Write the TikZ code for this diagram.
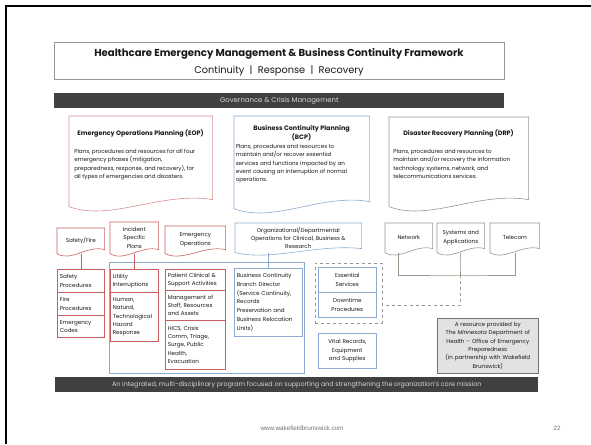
\documentclass[tikz,border=0pt]{standalone}
\usepackage{fontspec}
\setmainfont{Poppins}
\newfontfamily\footfont{Liberation Sans}
\usetikzlibrary{calc}

\definecolor{boxred}{RGB}{200,95,95}
\definecolor{boxblue}{RGB}{140,170,210}
\definecolor{boxgray}{RGB}{150,150,150}
\definecolor{bargray}{RGB}{64,64,64}
\definecolor{bartext}{RGB}{215,215,215}
\definecolor{txtgray}{RGB}{25,25,25}
\definecolor{linkgray}{RGB}{150,150,135}
\definecolor{notefill}{RGB}{226,226,226}

\newcommand{\smallfont}{\fontsize{5.6}{8.3}\selectfont}
\newcommand{\headfont}{\fontsize{6.4}{8.8}\selectfont\bfseries}

% document shape: node, colour, wave height
\newcommand{\wavybox}[3]{%
  \draw[#2] (#1.south west) -- (#1.north west) -- (#1.north east)
    -- ($(#1.south east)+(0,-#3)$)
    .. controls ($(#1.south west)!0.64!(#1.south east)+(0,-2.2*#3)$)
    and ($(#1.south west)!0.29!(#1.south east)+(0,2.2*#3)$) .. (#1.south west);
}

\tikzset{
  every node/.style={inner sep=0pt, text=txtgray},
  docbox/.style={anchor=north west, align=center, font=\smallfont},
  cell/.style={anchor=north west, draw, align=left, inner xsep=2.5pt, font=\smallfont},
  body/.style={anchor=north west, align=left, font=\smallfont},
  head/.style={align=center, font=\headfont},
  bar/.style={fill=bargray, draw=none, anchor=north west},
}

\begin{document}
\begin{tikzpicture}[x=1pt, y=-1pt, line width=0.6pt]

	\useasboundingbox (0,0) rectangle (591,444);
	\fill[white] (0,0) rectangle (591,444);

	% slide frame
	\draw[line width=2pt, black] (6,444) -- (6,6) -- (591,6);

	% Title
	\node[draw=boxgray, anchor=north west, minimum width=450, minimum height=37] (title) at (54,42) {};
	\node[font=\fontsize{10.1}{12}\selectfont\bfseries] (titleA) at (279,54)
		{Healthcare Emergency Management \& Business Continuity Framework};
	\node[font=\fontsize{9.8}{12}\selectfont] (titleB) at (279,71)
		{Continuity ~|~ Response ~|~ Recovery};

	% Governance bar
	\node[bar, minimum width=450, minimum height=15] (gov) at (54,93) {};
	\node[font=\fontsize{6.9}{8}\selectfont, text=bartext] (govtext) at (gov.center) {Governance \& Crisis Management};

	% Planning boxes
	\node[docbox, minimum width=143, minimum height=90] (eop) at (69,116) {};
	\wavybox{eop}{boxred!70}{7}
	\node[head] (eoptitle) at (140.5,133) {Emergency Operations Planning (EOP)};
	\node[body] (eopbody) at (74,149) {Plans, procedures and resources for all four\\
		emergency phases (mitigation,\\ preparedness, response, and recovery), for\\
		all types of emergencies and disasters.};

	\node[docbox, minimum width=135, minimum height=92] (bcp) at (234,116) {};
	\wavybox{bcp}{boxblue}{7}
	\node[head] (bcptitle) at (301.5,133) {Business Continuity Planning\\(BCP)};
	\node[body] (bcpbody) at (235.5,144) {Plans, procedures and resources to\\
		maintain and/or recover essential\\ services and functions impacted by an\\
		event causing an interruption of normal\\ operations.};

	\node[docbox, minimum width=139, minimum height=89] (drp) at (389,117) {};
	\wavybox{drp}{boxgray}{7}
	\node[head] (drptitle) at (458.5,133) {Disaster Recovery Planning (DRP)};
	\node[body] (drpbody) at (393,149) {Plans, procedures and resources to\\
		maintain and/or recovery the information\\ technology systems, network, and\\
		telecommunications services.};

	% Second row documents
	\node[docbox, minimum width=47, minimum height=25] (sf) at (57,228) {Safety/Fire};
	\wavybox{sf}{boxred}{4}
	\node[docbox, minimum width=48, minimum height=31] (isp) at (110,222) {Incident\\Specific\\Plans};
	\wavybox{isp}{boxred}{4}
	\node[docbox, minimum width=60, minimum height=27] (eops) at (165,226) {Emergency\\Operations};
	\wavybox{eops}{boxred}{4}
	\node[docbox, minimum width=126, minimum height=29] (org) at (235,223)
		{Organizational/Departmental\\Operations for Clinical, Business \&\\Research};
	\wavybox{org}{boxblue}{4}
	\node[docbox, minimum width=47, minimum height=29] (net) at (385,223) {Network};
	\wavybox{net}{boxgray}{4}
	\node[docbox, minimum width=47, minimum height=29] (sys) at (437,223) {Systems and\\Applications};
	\wavybox{sys}{boxgray}{4}
	\node[docbox, minimum width=49, minimum height=29] (tel) at (490,223) {Telecom};
	\wavybox{tel}{boxgray}{4}

	% Business continuity group
	\node[draw=boxblue, anchor=north west, minimum width=195, minimum height=111] (bcgroup) at (109,262) {};

	% Safety column
	\node[cell, draw=boxred, text width=42, minimum height=23] (sp) at (57,269) {Safety\\Procedures};
	\node[cell, draw=boxred, text width=42, minimum height=23] (fp) at (57,292) {Fire\\Procedures};
	\node[cell, draw=boxred, text width=42, minimum height=22] (ec) at (57,315) {Emergency\\Codes};

	% Incident column
	\node[cell, draw=boxred, text width=43, minimum height=23] (util) at (110,269) {Utility\\Interruptions};
	\node[cell, draw=boxred, text width=43, minimum height=49] (haz) at (110,292)
		{Human,\\Natural,\\Technological\\Hazard\\Response};

	% Emergency operations column
	\node[cell, draw=boxred, text width=55, minimum height=21] (pca) at (165,269)
		{Patient Clinical \&\\Support Activities};
	\node[cell, draw=boxred, text width=55, minimum height=30] (msr) at (165,290)
		{Management of\\Staff, Resources\\and Assets};
	\node[cell, draw=boxred, text width=55, minimum height=49] (hics) at (165,320)
		{HICS, Crisis\\Comm, Triage,\\Surge, Public\\Health,\\Evacuation};

	% Branch director
	\node[cell, draw=boxblue, text width=63, minimum height=68, font=\fontsize{5.6}{8.7}\selectfont] (bcbd) at (234,268)
		{Business Continuity\\Branch Director\\(Service Continuity,\\Records\\Preservation and\\Business Relocation\\Units)};

	% Essential services
	\node[draw=boxgray, dashed, anchor=north west, minimum width=67, minimum height=60] (dbox) at (315,263) {};
	\node[cell, draw=boxblue, align=center, text width=53, minimum height=25] (ess) at (318,267) {Essential\\Services};
	\node[cell, draw=boxblue, align=center, text width=53, minimum height=25] (dtp) at (318,292) {Downtime\\Procedures};
	\node[cell, draw=boxblue, align=center, text width=53, minimum height=35] (vital) at (318,333)
		{Vital Records,\\Equipment\\and Supplies};

	% Resource note
	\node[cell, draw=black!55, fill=notefill, align=center, text width=96, minimum height=55] (note) at (437,318)
		{A resource provided by\\The \textit{Minnesota} Department of\\Health -- Office of Emergency\\
		Preparedness\\(in partnership with Wakefield\\Brunswick)};

	% Links
	\draw[boxred] (sf.south) -- (sp.north);
	\draw[boxred] (isp.south) -- (util.north);
	\draw[boxblue] (org.south -| bcbd.north) -- (bcbd.north);
	\coordinate (itbus) at (460.5,275);
	\coordinate (dlink) at (460.5,305);
	\draw[linkgray] ([xshift=-11pt]net.south) |- (itbus) -| (tel.south);
	\draw[linkgray] (sys.south) -- (itbus);
	\draw[linkgray, dashed] (itbus) -- (dlink) -- (dbox.east |- dlink);

	% Bottom bar
	\node[bar, minimum width=483, minimum height=15] (mission) at (55,377) {};
	\node[font=\fontsize{6.4}{8}\selectfont, text=bartext] (missiontext) at (mission.center)
		{An integrated, multi-disciplinary program focused on supporting and strengthening the organization's core mission};

	% Footer
	\node[font=\footfont\fontsize{6.3}{8}\selectfont, text=black!55] (url) at (302,428) {www.wakefieldbrunswick.com};
	\node[font=\footfont\fontsize{6.3}{8}\selectfont, text=black!55] (page) at (557,428) {22};

\end{tikzpicture}
\end{document}
